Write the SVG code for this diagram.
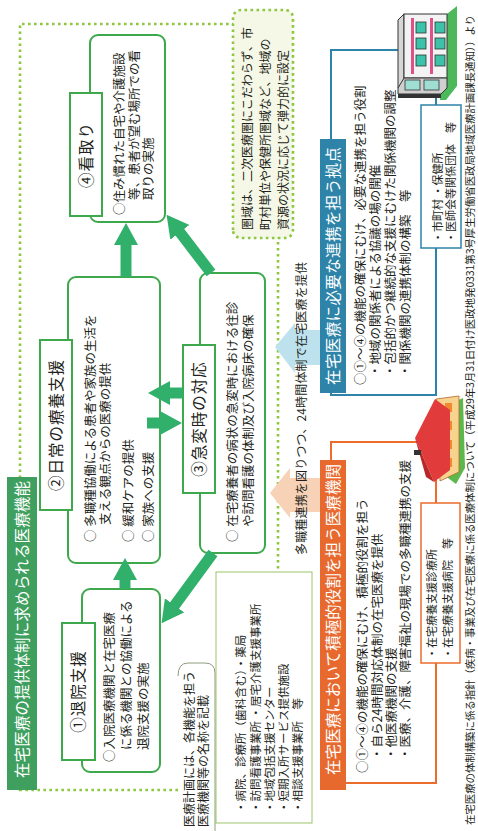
<svg xmlns="http://www.w3.org/2000/svg" width="478" height="831" viewBox="0 0 478 831">
<style>
  text { font-family: "Noto Sans CJK JP", "Noto Sans", sans-serif; fill: #231f20; }
  .box { fill: #fff; stroke: #3ea84c; stroke-width: 2; }
  .lbl { fill: #fff; stroke: #3ea84c; stroke-width: 2; }
  .lt { font-size: 15.5px; text-anchor: middle; letter-spacing: 1px; }
  .bt { font-size: 12.5px; }
  .bar { font-size: 15.5px; fill: #fff; }
  .dot { fill: none; stroke: #8dc63f; stroke-width: 2.6; stroke-dasharray: 2.6 3.4; }
  .conn line { stroke: #30b06a; stroke-width: 11; }
  .sm { font-size: 11px; }
  .note { font-size: 11.5px; }
  .cap { font-size: 10.5px; }
</style>
<defs>
  <marker id="head" markerUnits="userSpaceOnUse" viewBox="0 0 22 24" markerWidth="22" markerHeight="24" refX="1" refY="12" orient="auto">
    <path d="M0,0 L22,12 L0,24 Z" fill="#30b06a"/>
  </marker>
</defs>

<!-- the page is laid out upright, then turned a quarter turn -->
<g id="page" transform="translate(0,831) rotate(-90)">

  <!-- region frame -->
  <rect class="dot" x="41" y="20" width="766" height="258"/>

  <!-- heading -->
  <g id="heading">
    <rect x="41" y="7" width="313" height="30" fill="#3f9f5f"/>
    <text class="bar" x="53" y="28" textLength="297">在宅医療の提供体制に求められる医療機能</text>
  </g>

  <!-- area note -->
  <g id="area-note">
    <rect x="593" y="233" width="228" height="60" rx="8" fill="#f5f8e6" stroke="#8dc63f" stroke-width="2.6" stroke-dasharray="2.6 3.4"/>
    <text x="601" y="252" font-size="12">圏域は、二次医療圏にこだわらず、市</text>
    <text x="601" y="270" font-size="12">町村単位や保健所圏域など、地域の</text>
    <text x="601" y="288" font-size="12">資源の状況に応じて弾力的に設定</text>
  </g>

  <!-- ④ -->
  <g id="n4">
    <rect class="box" x="609" y="90" width="187" height="75" rx="8"/>
    <rect class="lbl" x="615" y="70" width="123" height="32"/>
    <text class="lt" x="676" y="91.5">④看取り</text>
    <text class="bt" x="616" y="124">○住み慣れた自宅や介護施設</text>
    <text class="bt" x="631" y="139">等、患者が望む場所での看</text>
    <text class="bt" x="631" y="153">取りの実施</text>
  </g>

  <!-- ② -->
  <g id="n2">
    <rect class="box" x="268" y="68" width="286" height="92" rx="8"/>
    <rect class="lbl" x="321" y="40" width="170" height="32"/>
    <text class="lt" x="406" y="61.5">②日常の療養支援</text>
    <text class="bt" x="289" y="94.5">○ 多職種協働による患者や家族の生活を</text>
    <text class="bt" x="306" y="109.5">支える観点からの医療の提供</text>
    <text class="bt" x="289" y="132.5">○ 緩和ケアの提供</text>
    <text class="bt" x="289" y="152.5">○ 家族への支援</text>
  </g>

  <!-- ③ -->
  <g id="n3">
    <rect class="box" x="278" y="200" width="280" height="65" rx="8"/>
    <rect class="lbl" x="338" y="183" width="148" height="32"/>
    <text class="lt" x="412" y="204.5">③急変時の対応</text>
    <text class="bt" x="289" y="236.5">○ 在宅療養者の病状の急変時における往診</text>
    <text class="bt" x="304" y="252.5">や訪問看護の体制及び入院病床の確保</text>
  </g>

  <!-- ① -->
  <g id="n1">
    <rect class="box" x="59" y="82" width="183" height="78" rx="8"/>
    <rect class="lbl" x="71" y="62" width="137" height="33"/>
    <text class="lt" x="139.5" y="84">①退院支援</text>
    <text class="bt" x="69" y="113.5">○入院医療機関と在宅医療</text>
    <text class="bt" x="81" y="130.5">に係る機関との協働による</text>
    <text class="bt" x="81" y="147.5">退院支援の実施</text>
  </g>

  <!-- flows between the four functions -->
  <g id="connectors" class="conn">
    <line x1="242" y1="125" x2="252" y2="125" marker-end="url(#head)"/>
    <line x1="554" y1="126" x2="587" y2="126" marker-end="url(#head)"/>
    <line x1="438" y1="183" x2="438" y2="169" marker-end="url(#head)"/>
    <line x1="408" y1="147" x2="408" y2="161" marker-end="url(#head)"/>
    <line x1="558" y1="211" x2="599.5" y2="179.3" marker-end="url(#head)"/>
    <line x1="278" y1="213" x2="224.8" y2="174" marker-end="url(#head)"/>
  </g>

  <!-- support arrows from the two bases -->
  <g id="support">
    <polygon points="484,275 508,295 501,295 501,320 466,320 466,295 458,295" fill="#bde2ee"/>
    <polygon points="338,270 363,290 353,290 353,322 319,322 319,290 313,290" fill="#f7d2b6"/>
    <text x="276" y="306" font-size="12" textLength="293">多職種連携を図りつつ、24時間体制で在宅医療を提供</text>
  </g>

  <!-- hub for coordination -->
  <g id="hub">
    <rect x="436" y="331" width="345" height="105" fill="none" stroke="#2d84a8" stroke-width="2"/>
    <rect x="438" y="320" width="254" height="26" fill="#2d84a8"/>
    <text class="bar" x="446" y="338.5" textLength="238">在宅医療に必要な連携を担う拠点</text>
    <text class="bt" x="446" y="364.5">○①～④の機能の確保にむけ、必要な連携を担う役割</text>
    <text class="bt" x="454" y="379.5">・地域の関係者による協議の場の開催</text>
    <text class="bt" x="454" y="394.5">・包括的かつ継続的な支援にむけた関係機関の調整</text>
    <text class="bt" x="454" y="409.5">・関係機関の連携体制の構築　等</text>
    <rect x="583" y="421" width="143" height="40" fill="#fff" stroke="#2d84a8" stroke-width="1.5"/>
    <text class="sm" x="588" y="442">・市町村 ・保健所</text>
    <text class="sm" x="588" y="455">・医師会等関係団体　等</text>
  </g>

  <!-- medical institutions with an active role -->
  <g id="active">
    <rect x="48" y="331" width="341" height="105" fill="none" stroke="#ec6c2c" stroke-width="2"/>
    <rect x="41" y="320" width="330" height="26" fill="#e8692e"/>
    <text class="bar" x="56" y="338.5" textLength="311">在宅医療において積極的役割を担う医療機関</text>
    <text class="bt" x="58" y="366.5">○①～④の機能の確保にむけ、積極的役割を担う</text>
    <text class="bt" x="71" y="381.5">・自ら24時間対応体制の在宅医療を提供</text>
    <text class="bt" x="71" y="395.5">・他医療機関の支援</text>
    <text class="bt" x="71" y="409.5">・医療、介護、障害福祉の現場での多職種連携の支援</text>
    <rect x="168" y="421" width="160" height="39" fill="#fff" stroke="#ec6c2c" stroke-width="1.5"/>
    <text class="sm" x="172" y="436">・在宅療養支援診療所</text>
    <text class="sm" x="172" y="452">・在宅療養支援病院　等</text>
  </g>

  <!-- plan entries -->
  <g id="plan-note">
    <rect x="0" y="178" width="168" height="38" fill="#fff"/>
    <path d="M155,178 Q168,178 168,188 V205 Q168,215 158,215 H0" fill="none" stroke="#8c9c7c" stroke-width="1"/>
    <text x="4" y="193.5" font-size="12">医療計画には、各機能を担う</text>
    <text x="4" y="208" font-size="12">医療機関等の名称を記載</text>
    <rect x="8" y="216" width="251" height="96" fill="#fff" stroke="#9cc46a" stroke-width="1"/>
    <text class="note" x="18" y="245">・病院、診療所（歯科含む）・薬局</text>
    <text class="note" x="18" y="260">・訪問看護事業所 ・居宅介護支援事業所</text>
    <text class="note" x="18" y="274">・地域包括支援センター</text>
    <text class="note" x="18" y="288">・短期入所サービス提供施設</text>
    <text class="note" x="18" y="302">・相談支援事業所　等</text>
  </g>
</g>

<!-- building icon -->
<g id="building">
  <polygon points="447,14 457,6 457,86 446,100 440,100" fill="#4bb85a"/>
  <polygon points="398,20 404,14 404,82 398,88" fill="#d6d6d6" stroke="#333" stroke-width="1"/>
  <rect x="404" y="14" width="43" height="64" fill="#f3f3f3" stroke="#333" stroke-width="1"/>
  <rect x="411" y="18" width="3" height="56" fill="#e0508a"/>
  <rect x="430" y="18" width="3" height="56" fill="#e0508a"/>
  <g fill="#3cc2a8" stroke="#333" stroke-width="0.8">
    <rect x="416" y="22" width="10" height="11"/>
    <rect x="416" y="38" width="10" height="11"/>
    <rect x="416" y="55" width="10" height="11"/>
    <rect x="435" y="22" width="10" height="11"/>
    <rect x="435" y="38" width="10" height="11"/>
    <rect x="435" y="55" width="10" height="11"/>
  </g>
  <polygon points="398,88 404,78 447,78 447,88 441,94 398,94" fill="#cfcfcf" stroke="#333" stroke-width="1"/>
  <rect x="405" y="80" width="15" height="10" fill="#9fded2" stroke="#333" stroke-width="0.8"/>
  <rect x="424" y="80" width="15" height="10" fill="#9fded2" stroke="#333" stroke-width="0.8"/>
  <rect x="398" y="94" width="43" height="4" fill="#333"/>
</g>

<!-- house icon -->
<g id="house">
  <polygon points="450,404 463,398 465,468 456,484 448,478" fill="#5cb84c"/>
  <polygon points="436,399 459,396 459,472 440,481" fill="#f7d38e" stroke="#b06a2a" stroke-width="0.8"/>
  <g fill="#f08a30">
    <rect x="445" y="403" width="7" height="9"/>
    <rect x="445" y="421" width="7" height="9"/>
    <rect x="445" y="440" width="7" height="9"/>
    <rect x="445" y="458" width="7" height="9"/>
  </g>
  <polygon points="415,438 435,399 450,410 450,470 434,482" fill="#e23b3b"/>
  <polygon points="415,438 434,482 426,477" fill="#b82828"/>
  <rect x="414" y="450" width="7" height="5" fill="#333"/>
</g>

<!-- source line -->
<g id="source" transform="translate(0,831) rotate(-90)">
  <text class="cap" x="6" y="474" textLength="810">在宅医療の体制構築に係る指針（疾病・事業及び在宅医療に係る医療体制について（平成29年3月31日付け医政地発0331第3号厚生労働省医政局地域医療計画課長通知））より</text>
</g>
</svg>
